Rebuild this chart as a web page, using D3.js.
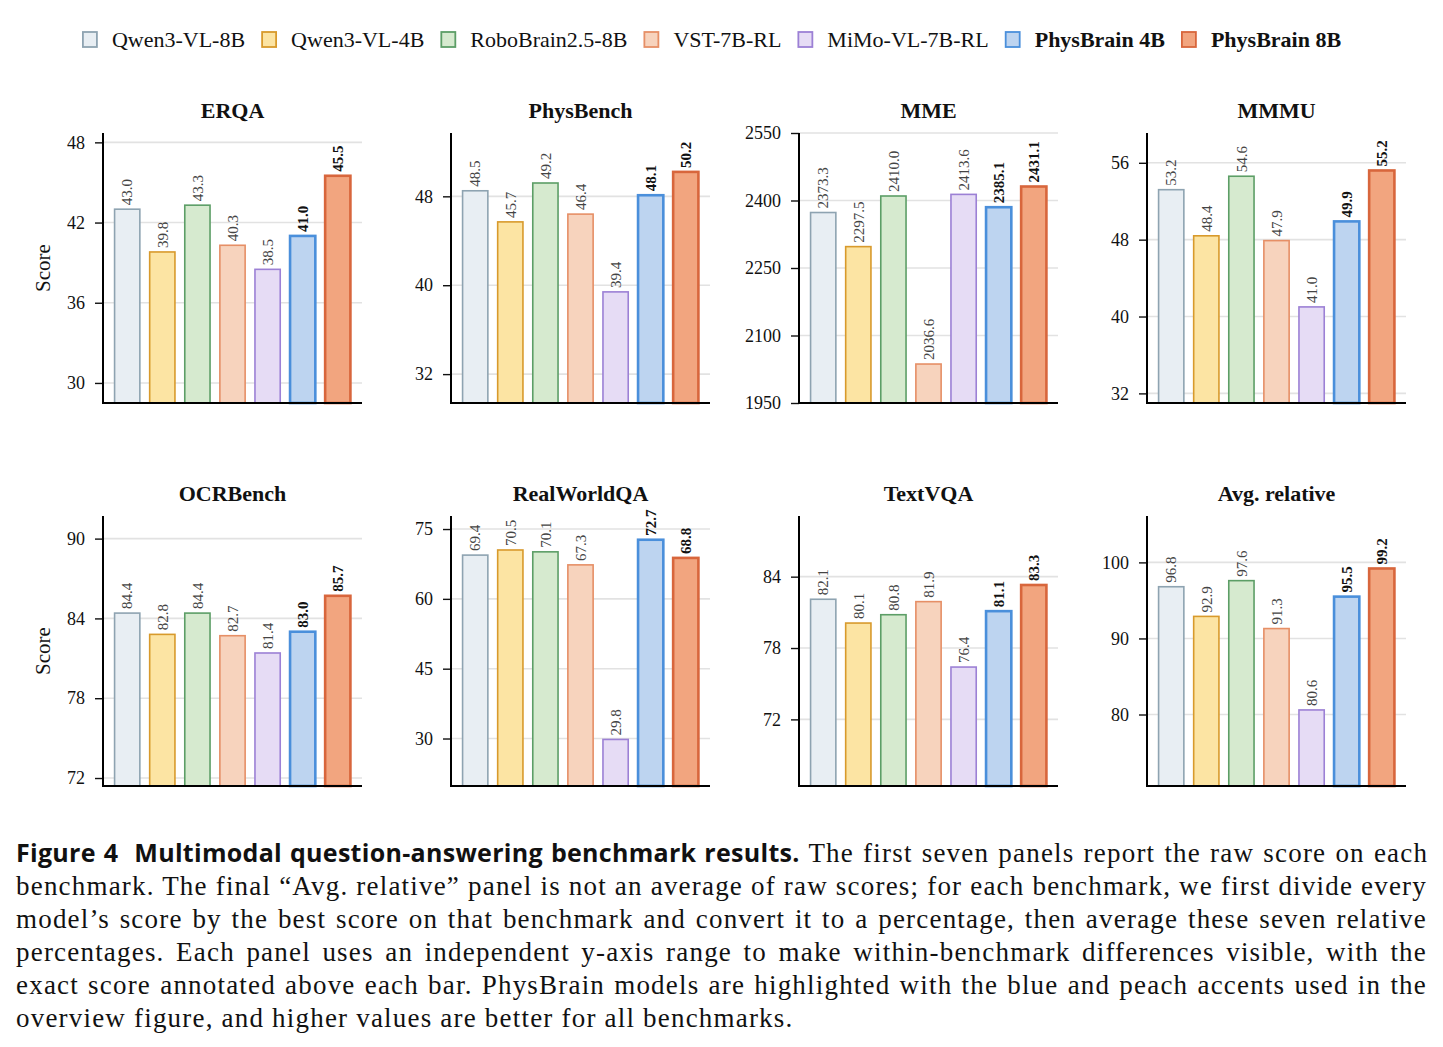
<!DOCTYPE html>
<html>
<head>
<meta charset="utf-8">
<script src="https://cdn.jsdelivr.net/npm/d3@7"></script>
<style>
  body { margin: 0; background: #fff; }
  svg { display: block; }
</style>
</head>
<body>
<script>
// models, in legend / bar order
var models = ["Qwen3-VL-8B", "Qwen3-VL-4B", "RoboBrain2.5-8B", "VST-7B-RL", "MiMo-VL-7B-RL", "PhysBrain 4B", "PhysBrain 8B"];
var highlighted = ["PhysBrain 4B", "PhysBrain 8B"];

// benchmark panels
var benchmarks = ["ERQA", "PhysBench", "MME", "MMMU", "OCRBench", "RealWorldQA", "TextVQA", "Avg. relative"];

// scores per benchmark (same order as models)
var erqa = [43.0, 39.8, 43.3, 40.3, 38.5, 41.0, 45.5];
var physBench = [48.5, 45.7, 49.2, 46.4, 39.4, 48.1, 50.2];
var mme = [2373.3, 2297.5, 2410.0, 2036.6, 2413.6, 2385.1, 2431.1];
var mmmu = [53.2, 48.4, 54.6, 47.9, 41.0, 49.9, 55.2];
var ocrBench = [84.4, 82.8, 84.4, 82.7, 81.4, 83.0, 85.7];
var realWorldQA = [69.4, 70.5, 70.1, 67.3, 29.8, 72.7, 68.8];
var textVQA = [82.1, 80.1, 80.8, 81.9, 76.4, 81.1, 83.3];
var avgRelative = [96.8, 92.9, 97.6, 91.3, 80.6, 95.5, 99.2];
var scores = [erqa, physBench, mme, mmmu, ocrBench, realWorldQA, textVQA, avgRelative];

// y-axis ranges and tick labels
var yDomains = [[28.5, 48.7], [29.4, 53.7], [1950, 2550], [31.0, 59.1], [71.4, 91.7], [19.8, 77.8], [66.4, 89.1], [70.6, 106.1]];
var yTicks = [[30, 36, 42, 48], [32, 40, 48], [1950, 2100, 2250, 2400, 2550], [32, 40, 48, 56], [72, 78, 84, 90], [30, 45, 60, 75], [72, 78, 84], [80, 90, 100]];

// caption lines
var captionHead = ["Figure 4", "Multimodal question-answering benchmark results."];
var captionLines = [
    " The first seven panels report the raw score on each",
    "benchmark. The final \u201cAvg. relative\u201d panel is not an average of raw scores; for each benchmark, we first divide every",
    "model\u2019s score by the best score on that benchmark and convert it to a percentage, then average these seven relative",
    "percentages. Each panel uses an independent y-axis range to make within-benchmark differences visible, with the",
    "exact score annotated above each bar. PhysBrain models are highlighted with the blue and peach accents used in the",
    "overview figure, and higher values are better for all benchmarks."
];

//fill and edge colour per model
var fills = ["#e8eef3", "#fce4a3", "#d6eacf", "#f7d3bd", "#e6dcf5", "#bdd4f0", "#f2a57f"];
var strokes = ["#8ea3b1", "#d89a2c", "#5c9e66", "#e68f66", "#9c80d5", "#4a8fdb", "#d8663c"];

var width = 1443, height = 1047;
var serif = "'Liberation Serif', 'Times New Roman', serif";

var svg = d3.select("body")
    .append("svg")
    .attr("width", width)
    .attr("height", height)
    .style("background", "#fff");

// panel frame positions
var panelLeft = [103, 451, 799, 1147],
    panelW = 259,
    rowTop = [133, 516],
    panelH = 270;

var color = d3.scaleOrdinal().domain(models).range(fills);
var edge = d3.scaleOrdinal().domain(models).range(strokes);

//legend
var legend = svg.append("g").attr("class", "legend");
var lx = 0;
models.forEach(function(m, i){
    var item = legend.append("g").attr("transform", "translate(" + lx + ",0)");
    item.append("rect")
        .attr("x", 0).attr("y", -8)
        .attr("width", 14).attr("height", 15)
        .attr("fill", color(m))
        .attr("stroke", edge(m))
        .attr("stroke-width", 1.8);
    var t = item.append("text")
        .attr("x", 29).attr("y", 7)
        .style("font-family", serif)
        .style("font-size", "22px")
        .style("font-weight", highlighted.indexOf(m) >= 0 ? "bold" : "normal")
        .attr("fill", "#111")
        .text(m);
    lx += 29 + t.node().getComputedTextLength() + 17;
});
lx -= 17;
legend.attr("transform", "translate(" + (712 - lx / 2) + ",40)");

// one panel per benchmark
benchmarks.forEach(function(name, p){
    var col = p % 4, row = Math.floor(p / 4);
    var x0 = panelLeft[col], y0 = rowTop[row];
    var g = svg.append("g").attr("transform", "translate(" + x0 + "," + y0 + ")");

    var x = d3.scaleBand()
        .domain(models)
        .range([0, panelW])
        .paddingInner(0.28)
        .paddingOuter(0.33);

    var y = d3.scaleLinear()
        .domain(yDomains[p])
        .range([panelH, 0]);

    //grid lines
    g.selectAll(".grid")
        .data(yTicks[p])
        .enter()
        .append("line")
        .attr("class", "grid")
        .attr("x1", 0).attr("x2", panelW)
        .attr("y1", function(d){ return y(d); })
        .attr("y2", function(d){ return y(d); })
        .attr("stroke", "#e2e2e2")
        .attr("stroke-width", 1.6);

    var data = models.map(function(m, i){ return {model: m, value: scores[p][i]}; });

    //bars
    g.selectAll(".bar")
        .data(data)
        .enter()
        .append("rect")
        .attr("class", "bar")
        .attr("x", function(d){ return x(d.model); })
        .attr("width", x.bandwidth())
        .attr("y", function(d){ return y(d.value); })
        .attr("height", function(d){ return panelH - y(d.value); })
        .attr("fill", function(d){ return color(d.model); })
        .attr("stroke", function(d){ return edge(d.model); })
        .attr("stroke-width", function(d){ return highlighted.indexOf(d.model) >= 0 ? 2.6 : 1.6; });

    //value labels, rotated
    g.selectAll(".val")
        .data(data)
        .enter()
        .append("text")
        .attr("class", "val")
        .attr("transform", function(d){
            return "translate(" + (x(d.model) + x.bandwidth() / 2) + "," + (y(d.value) - 4) + ") rotate(-90)";
        })
        .attr("dy", "0.35em")
        .style("font-family", serif)
        .style("font-size", "15px")
        .style("font-weight", function(d){ return highlighted.indexOf(d.model) >= 0 ? "bold" : "normal"; })
        .attr("fill", function(d){ return highlighted.indexOf(d.model) >= 0 ? "#111" : "#444"; })
        .text(function(d){ return d.value.toFixed(1); });

    //axes
    var yAxis = g.append("g")
        .call(d3.axisLeft(y).tickValues(yTicks[p]).tickSize(8).tickPadding(10).tickFormat(d3.format("d")));
    yAxis.select(".domain").remove();
    yAxis.selectAll(".tick line").attr("stroke", "#111").attr("stroke-width", 1.4);
    yAxis.selectAll(".tick text")
        .style("font-family", serif)
        .style("font-size", "18px")
        .attr("fill", "#111");

    g.append("line")
        .attr("x1", 0).attr("x2", 0)
        .attr("y1", 0).attr("y2", panelH)
        .attr("stroke", "#000").attr("stroke-width", 2);
    g.append("line")
        .attr("x1", -1).attr("x2", panelW)
        .attr("y1", panelH).attr("y2", panelH)
        .attr("stroke", "#000").attr("stroke-width", 2);

    //title
    g.append("text")
        .attr("x", panelW / 2)
        .attr("y", -15)
        .attr("text-anchor", "middle")
        .style("font-family", serif)
        .style("font-size", "22px")
        .style("font-weight", "bold")
        .attr("fill", "#111")
        .text(name);

    if (col == 0) {
        g.append("text")
            .attr("transform", "translate(-53," + panelH / 2 + ") rotate(-90)")
            .attr("text-anchor", "middle")
            .style("font-family", serif)
            .style("font-size", "21px")
            .attr("fill", "#111")
            .text("Score");
    };
});

//caption, justified line by line
var capLeft = 16, capRight = 1427, capTop = 862, capStep = 33;
captionLines.forEach(function(line, i){
    var t = svg.append("text")
        .attr("x", capLeft)
        .attr("y", capTop + i * capStep)
        .style("font-family", serif)
        .style("font-size", "27px")
        .style("letter-spacing", "1.2px")
        .attr("fill", "#111");
    if (i == 0) {
        t.append("tspan")
            .style("font-family", "'Open Sans', Lato, sans-serif")
            .style("font-weight", "bold")
            .style("font-size", "25px")
            .style("letter-spacing", "0.3px")
            .text(captionHead[0] + "\u00a0\u00a0" + captionHead[1]);
    }
    t.append("tspan").text(line);
    if (i < captionLines.length - 1) {
        var full = (i == 0 ? captionHead.join("  ") : "") + line;
        var spaces = (full.match(/ /g) || []).length - (i == 0 ? 1 : 0);
        var extra = (capRight - capLeft) - t.node().getComputedTextLength();
        t.style("word-spacing", (extra / spaces) + "px");
    }
});
</script>
</body>
</html>
